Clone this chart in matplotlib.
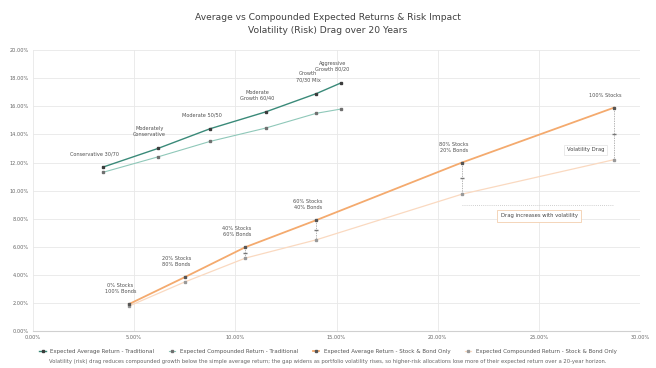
import matplotlib
matplotlib.use("Agg")
import matplotlib.pyplot as plt
from matplotlib.ticker import FuncFormatter

plt.rcParams['font.family'] = ['DejaVu Sans']

# volatility (x, %) and expected return (y, %) per portfolio
trad_names = ['Conservative 30/70', 'Moderately\nConservative', 'Moderate 50/50',
              'Moderate\nGrowth 60/40', 'Growth\n70/30 Mix', 'Aggressive\nGrowth 80/20']
trad_vol = [3.46, 6.18, 8.75, 11.5, 14.0, 15.2]
trad_avg = [11.67, 13.0, 14.4, 15.6, 16.9, 17.65]
trad_comp = [11.3, 12.4, 13.5, 14.45, 15.5, 15.8]

sb_names = ['0% Stocks\n100% Bonds', '20% Stocks\n80% Bonds', '40% Stocks\n60% Bonds',
            '60% Stocks\n40% Bonds', '80% Stocks\n20% Bonds', '100% Stocks']
sb_vol = [4.74, 7.5, 10.5, 14.0, 21.2, 28.7]
sb_avg = [1.92, 3.84, 5.98, 7.9, 12.0, 15.9]
sb_comp = [1.78, 3.5, 5.2, 6.5, 9.75, 12.2]

x_ticks = [0, 5, 10, 15, 20, 25, 30]
y_ticks = [0, 2, 4, 6, 8, 10, 12, 14, 16, 18, 20]

c_trad = '#3a8a79'
c_trad2 = '#8fc8b9'
c_sb = '#f4aa6e'
c_sb2 = '#fad9c0'

fig = plt.figure(figsize=(6.56, 3.68), dpi=100)
ax = fig.add_axes([0.050, 0.100, 0.926, 0.764])

l1, = ax.plot(trad_vol, trad_avg, color=c_trad, lw=1.0, marker='s', ms=2,
              mfc='#3c3c3c', mec='#3c3c3c', zorder=4)
l2, = ax.plot(trad_vol, trad_comp, color=c_trad2, lw=0.8, marker='s', ms=1.6,
              mfc='#707070', mec='#707070', zorder=3)
l3, = ax.plot(sb_vol, sb_avg, color=c_sb, lw=1.3, marker='s', ms=2,
              mfc='#555555', mec='#555555', zorder=4)
l4, = ax.plot(sb_vol, sb_comp, color=c_sb2, lw=0.9, marker='s', ms=1.6,
              mfc='#999999', mec='#999999', zorder=3)

# drag brackets between average and compounded returns
for x, a, c in zip(sb_vol[2:], sb_avg[2:], sb_comp[2:]):
    ax.plot([x, x], [a, c], color='#999999', lw=0.5, ls=(0, (2, 1.5)), zorder=2)
    ax.plot([x], [(a + c) / 2], marker='_', ms=3, color='#777777', zorder=2)

for n, x, y in zip(trad_names, trad_vol, trad_avg):
    ax.annotate(n, (x, y), xytext=(-6, 8), textcoords='offset points', fontsize=3.6,
                color='#505050', ha='center', va='bottom', linespacing=1.3)
for n, x, y in zip(sb_names, sb_vol, sb_avg):
    ax.annotate(n, (x, y), xytext=(-6, 7), textcoords='offset points', fontsize=3.6,
                color='#505050', ha='center', va='bottom', linespacing=1.3)

ax.text(27.3, 12.9, 'Volatility Drag', fontsize=3.8, color='#444444', ha='center',
        va='center', bbox=dict(boxstyle='square,pad=0.5', fc='white', ec='#e2e2e2', lw=0.5))
ax.plot([21.2, 28.7], [9.0, 9.0], color='#c0c0c0', lw=0.6, ls=(0, (1, 1.5)))
ax.text(25.0, 8.2, 'Drag increases with volatility', fontsize=3.8, color='#444444',
        ha='center', va='center',
        bbox=dict(boxstyle='square,pad=0.6', fc='white', ec='#f3cfae', lw=0.6))

ax.set_xlim(0, 30)
ax.set_ylim(0, 20)
ax.set_xticks(x_ticks)
ax.set_yticks(y_ticks)
ax.xaxis.set_major_formatter(FuncFormatter(lambda v, p: f'{v:.2f}%'))
ax.yaxis.set_major_formatter(FuncFormatter(lambda v, p: f'{v:.2f}%'))
ax.tick_params(labelsize=3.6, colors='#666666', length=0, pad=3)
ax.grid(True, color='#e8e8e8', lw=0.6)
for s in ax.spines.values():
    s.set_visible(False)
ax.spines['bottom'].set_visible(True)
ax.spines['bottom'].set_color('#d0d0d0')

fig.suptitle('Average vs Compounded Expected Returns & Risk Impact\n'
             'Volatility (Risk) Drag over 20 Years',
             y=0.965, fontsize=6.6, color='#404040', linespacing=1.55)

fig.legend([l1, l2, l3, l4],
           ['Expected Average Return - Traditional',
            'Expected Compounded Return - Traditional',
            'Expected Average Return - Stock & Bond Only',
            'Expected Compounded Return - Stock & Bond Only'],
           loc='lower center', bbox_to_anchor=(0.5, 0.025), ncol=4, frameon=False,
           fontsize=4.0, handlelength=1.2, columnspacing=2.6, labelcolor='#555555')
fig.text(0.5, 0.012,
         'Volatility (risk) drag reduces compounded growth below the simple average return; '
         'the gap widens as portfolio volatility rises, so higher-risk allocations lose more of '
         'their expected return over a 20-year horizon.',
         ha='center', va='bottom', fontsize=3.8, color='#666666')

fig.savefig('out.png', dpi=100)
